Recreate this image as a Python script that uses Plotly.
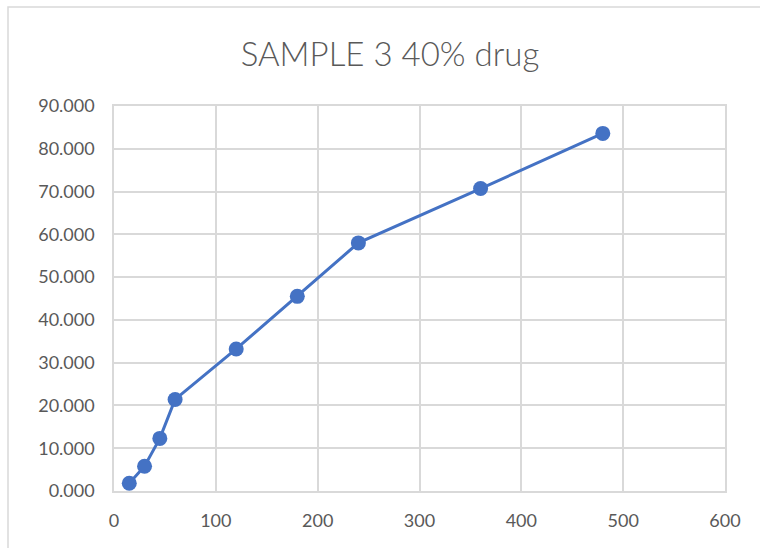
import plotly.graph_objects as go

# Release data: time (min) vs cumulative drug released (%)
time_min = [15, 30, 45, 60, 120, 180, 240, 360, 480]
release_pct = [1.8, 5.8, 12.3, 21.4, 33.2, 45.5, 58.0, 70.7, 83.6]

x_ticks = [0, 100, 200, 300, 400, 500, 600]
y_ticks = [0, 10, 20, 30, 40, 50, 60, 70, 80, 90]

line_color = "#4472C4"
grid_color = "#D9D9D9"
text_color = "#595959"
font_family = "Lato, Open Sans, sans-serif"

fig = go.Figure(
    go.Scatter(
        x=time_min,
        y=release_pct,
        mode="lines+markers",
        line=dict(color=line_color, width=3),
        marker=dict(color=line_color, size=15),
        showlegend=False,
    )
)

W, H = 760, 548
ml, mr, mt, mb = 114, 35, 106, 57
pw, ph = W - ml - mr, H - mt - mb

fig.update_layout(
    width=W,
    height=H,
    margin=dict(l=ml, r=mr, t=mt, b=mb),
    paper_bgcolor="white",
    plot_bgcolor="white",
    font=dict(family=font_family, color=text_color, size=18),
    title=dict(
        text="SAMPLE 3 40% drug",
        x=390 / W,
        xanchor="center",
        y=1 - 54 / H,
        yanchor="middle",
        font=dict(size=33, color=text_color, family=font_family, weight=300),
    ),
    xaxis=dict(
        range=[0, 600],
        tickvals=x_ticks,
        ticktext=[str(v) for v in x_ticks],
        showgrid=True,
        gridcolor=grid_color,
        gridwidth=1.5,
        zeroline=False,
        showline=True,
        linecolor=grid_color,
        linewidth=1.5,
        mirror=True,
        ticks="",
        ticklabelstandoff=13,
    ),
    yaxis=dict(
        range=[0, 90],
        tickvals=y_ticks,
        ticktext=[f"{v:.3f}" for v in y_ticks],
        showgrid=True,
        gridcolor=grid_color,
        gridwidth=1.5,
        zeroline=False,
        showline=True,
        linecolor=grid_color,
        linewidth=1.5,
        mirror=True,
        ticks="",
        ticklabelstandoff=14,
    ),
    shapes=[
        # outer chart frame
        dict(
            type="rect",
            xref="paper",
            yref="paper",
            x0=(8 - ml) / pw,
            x1=(W + 20 - ml) / pw,
            y0=-(H + 20 - mt - ph) / ph,
            y1=1 + (mt - 7) / ph,
            line=dict(color=grid_color, width=1.5),
            layer="below",
        )
    ],
)

fig.write_html("out.html")
